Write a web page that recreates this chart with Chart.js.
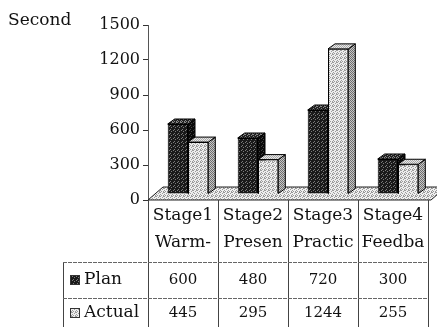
<!DOCTYPE html>
<html>
<head>
<meta charset="utf-8">
<script src="https://cdn.jsdelivr.net/npm/chart.js@4"></script>
<style>
  html, body { margin: 0; padding: 0; background: #fff; }
  #wrap { width: 437px; height: 327px; }
</style>
</head>
<body>
<div id="wrap"><canvas id="chart" width="437" height="327"></canvas></div>
<script>
// chart data
const categories = [['Stage1', 'Warm-'], ['Stage2', 'Presen'], ['Stage3', 'Practic'], ['Stage4', 'Feedba']];
const seriesNames = ['Plan', 'Actual'];
const planValues = [600, 480, 720, 300];
const actualValues = [445, 295, 1244, 255];
const yMax = 1500;
const yStep = 300;
const yTitle = 'Second';

const font = '"DejaVu Serif", "Liberation Serif", serif';
const wordFont = '17px ' + font;
const numFont = '15px ' + font;
const ink = '#111';

// stipple patterns like the scanned print, "x" = dot
function stipple(bg, dot, map) {
  const c = document.createElement('canvas');
  c.width = 4; c.height = 4;
  const g = c.getContext('2d');
  g.fillStyle = bg;
  g.fillRect(0, 0, 4, 4);
  g.fillStyle = dot;
  map.forEach((row, y) => {
    for (let x = 0; x < 4; x++) {
      if (row[x] == 'x') g.fillRect(x, y, 1, 1);
    }
  });
  return g.createPattern(c, 'repeat');
}

const sparse = ['x...', '..x.', '....', '.x..'];
const medium = ['x..x', '..x.', 'x...', '.x.x'];
const checker = ['x.x.', '.x.x', 'x.x.', '.x.x'];

const ctx0 = document.getElementById('chart').getContext('2d');
const styles = [
  { front: stipple('#1a1a1a', '#7a7a7a', sparse), side: stipple('#0a0a0a', '#444', sparse), top: stipple('#222', '#888', medium) },
  { front: stipple('#ededed', '#9c9c9c', medium), side: stipple('#6e6e6e', '#c8c8c8', checker), top: stipple('#aaa', '#e8e8e8', checker) }
];
const floorFill = stipple('#f0f0f0', '#999', medium);

const depth = { x: 7, y: 5 };       // bar depth
const floorDepth = { x: 15, y: 13 }; // floor depth
const shift = { x: 5, y: -6 };       // bars sit in middle of floor

const tableTop = 200;
const row1 = 262, row2 = 298, tableBottom = 327;
const legendLeft = 63;

const threeD = {
  id: 'threeD',
  beforeDatasetsDraw(chart) {
    const { ctx, chartArea } = chart;
    const y0 = chart.scales.y.getPixelForValue(0);
    ctx.save();
    ctx.beginPath();
    ctx.moveTo(chartArea.left, y0);
    ctx.lineTo(chartArea.right + 3, y0);
    ctx.lineTo(chartArea.right + 3 + floorDepth.x, y0 - floorDepth.y);
    ctx.lineTo(chartArea.left + floorDepth.x, y0 - floorDepth.y);
    ctx.closePath();
    ctx.fillStyle = floorFill;
    ctx.fill();
    ctx.strokeStyle = '#222';
    ctx.lineWidth = 1;
    ctx.stroke();
    ctx.restore();
  },
  // bars are drawn below, plan first so actual covers its side
  beforeDatasetDraw() {
    return false;
  },
  afterDatasetsDraw(chart) {
    const { ctx } = chart;
    ctx.save();
    ctx.translate(shift.x, shift.y);
    chart.data.datasets.forEach((ds, i) => {
      const st = styles[i];
      chart.getDatasetMeta(i).data.forEach((bar) => {
        bar.draw(ctx);
        const l = bar.x - bar.width / 2;
        const r = bar.x + bar.width / 2;
        const t = bar.y;
        const b = bar.base;
        ctx.lineWidth = 1;
        ctx.strokeStyle = '#000';
        // side
        ctx.beginPath();
        ctx.moveTo(r, t);
        ctx.lineTo(r + depth.x, t - depth.y);
        ctx.lineTo(r + depth.x, b - depth.y);
        ctx.lineTo(r, b);
        ctx.closePath();
        ctx.fillStyle = st.side;
        ctx.fill();
        ctx.stroke();
        // top
        ctx.beginPath();
        ctx.moveTo(l, t);
        ctx.lineTo(l + depth.x, t - depth.y);
        ctx.lineTo(r + depth.x, t - depth.y);
        ctx.lineTo(r, t);
        ctx.closePath();
        ctx.fillStyle = st.top;
        ctx.fill();
        ctx.stroke();
      });
    });
    ctx.restore();
  },
  afterDraw(chart) {
    const { ctx, chartArea } = chart;
    const xs = chart.scales.x;
    const w = (chartArea.right - chartArea.left) / categories.length;
    ctx.save();
    // y axis title
    ctx.fillStyle = ink;
    ctx.font = wordFont;
    ctx.textAlign = 'left';
    ctx.textBaseline = 'middle';
    ctx.fillText(yTitle, 8, 21);

    // table lines
    ctx.strokeStyle = '#444';
    ctx.lineWidth = 1;
    ctx.beginPath();
    for (let i = 0; i <= categories.length; i++) {
      const x = Math.round(chartArea.left + i * w) + 0.5;
      ctx.moveTo(x, tableTop);
      ctx.lineTo(x, tableBottom);
    }
    ctx.moveTo(legendLeft + 0.5, row1);
    ctx.lineTo(legendLeft + 0.5, tableBottom);
    ctx.stroke();
    ctx.setLineDash([4, 1]);
    ctx.strokeStyle = '#666';
    ctx.beginPath();
    [row1, row2].forEach((y) => {
      ctx.moveTo(legendLeft, y + 0.5);
      ctx.lineTo(chartArea.right, y + 0.5);
    });
    ctx.stroke();
    ctx.setLineDash([]);

    // category labels and values
    ctx.textAlign = 'center';
    ctx.fillStyle = ink;
    categories.forEach((cat, i) => {
      const cx = xs.getPixelForValue(i);
      ctx.font = wordFont;
      ctx.fillText(cat[0], cx, 216);
      ctx.fillText(cat[1], cx, 243);
      ctx.font = numFont;
      ctx.fillText(String(planValues[i]), cx, 280);
      ctx.fillText(String(actualValues[i]), cx, 313);
    });

    // legend column
    ctx.textAlign = 'left';
    ctx.font = wordFont;
    [280, 313].forEach((y, k) => {
      ctx.fillStyle = styles[k].front;
      ctx.fillRect(70, y - 5, 10, 10);
      ctx.strokeStyle = '#333';
      ctx.strokeRect(70.5, y - 4.5, 9, 9);
      ctx.fillStyle = ink;
      ctx.fillText(seriesNames[k], 84, y);
    });
    ctx.restore();
  }
};

new Chart(ctx0, {
  type: 'bar',
  data: {
    labels: categories.map(c => c.join(' ')),
    datasets: [
      { label: seriesNames[0], data: planValues, backgroundColor: styles[0].front, borderColor: '#000', borderWidth: 1 },
      { label: seriesNames[1], data: actualValues, backgroundColor: styles[1].front, borderColor: '#000', borderWidth: 1 }
    ]
  },
  options: {
    responsive: false,
    devicePixelRatio: 1,
    animation: false,
    layout: { padding: { left: 0, top: 25, right: 9, bottom: 127 } },
    plugins: { legend: { display: false }, tooltip: { enabled: false } },
    datasets: { bar: { categoryPercentage: 0.58, barPercentage: 1 } },
    scales: {
      x: { display: false },
      y: {
        min: 0,
        max: yMax,
        afterFit: (s) => { s.width = 148; },
        ticks: { stepSize: yStep, color: ink, padding: 3, font: { family: font, size: 16 }, callback: (v) => String(v) },
        grid: { drawOnChartArea: false, drawTicks: true, tickLength: 5, color: '#333' },
        border: { display: true, color: '#555' }
      }
    }
  },
  plugins: [threeD]
});
</script>
</body>
</html>
